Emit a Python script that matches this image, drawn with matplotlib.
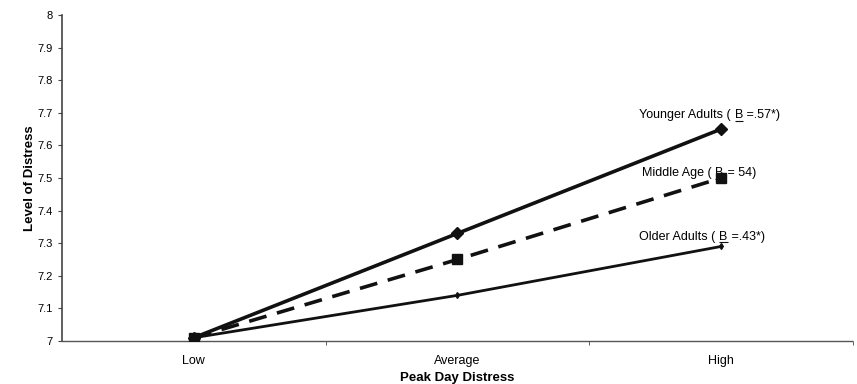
import numpy as np
import matplotlib.pyplot as plt
from matplotlib.ticker import FixedLocator, FuncFormatter

plt.rcParams['font.family'] = ['Liberation Sans', 'DejaVu Sans']

# data
categories = ['Low', 'Average', 'High']
younger = [7.01, 7.33, 7.65]
middle = [7.01, 7.25, 7.50]
older = [7.01, 7.14, 7.29]
label_names = ['Younger Adults ( ', 'Middle Age ( ', 'Older Adults ( ']
label_betas = [' =.57*)', ' = 54)', ' =.43*)']

fig = plt.figure(figsize=(8.57, 3.84), dpi=100)
ax = fig.add_axes([0.0723, 0.112, 0.923, 0.849])

x = np.arange(len(categories))
ink = '#111111'

ax.plot(x, older, color=ink, lw=2.0, marker='d', ms=3, zorder=3)
ax.plot(x, middle, color=ink, lw=2.6, ls=(0, (5, 3)), marker='s', ms=7, zorder=4)
ax.plot(x, younger, color=ink, lw=2.6, marker='D', ms=6, zorder=5)

ax.set_xlim(-0.5, 2.5)
ax.set_ylim(7, 8)
ax.set_xticks(x)
ax.set_xticklabels(categories, fontsize=9)
ax.xaxis.set_minor_locator(FixedLocator([0.5, 1.5, 2.5]))
ax.tick_params(axis='x', which='major', length=0, pad=10)
ax.tick_params(axis='x', which='minor', length=3, direction='out', color='#444444')

ax.set_yticks(np.round(np.arange(7, 8.01, 0.1), 1))
ax.yaxis.set_major_formatter(FuncFormatter(lambda v, p: f'{v:g}'))
ax.tick_params(axis='y', length=3, labelsize=8, color='#444444')

for s in ['top', 'right']:
    ax.spines[s].set_visible(False)
ax.spines['left'].set_color('#444444')
ax.spines['left'].set_linewidth(1.2)
ax.spines['bottom'].set_color('#555555')
ax.spines['bottom'].set_linestyle((0, (1, 1)))
ax.spines['bottom'].set_linewidth(1.0)

ax.set_xlabel('Peak Day Distress', fontsize=9.5, fontweight='bold', labelpad=4)
ax.set_ylabel('Level of Distress', fontsize=9.5, fontweight='bold', labelpad=1)

# series labels with an underlined B, placed near the right-hand points
renderer = fig.canvas.get_renderer()
inv = ax.transData.inverted()
ends = [younger[-1], middle[-1], older[-1]]
offsets = [0.013, -0.014, 0.0]
starts = [x[-1] - 0.31, x[-1] - 0.30, x[-1] - 0.31]
for name, beta, yend, dy, x0 in zip(label_names, label_betas, ends, offsets, starts):
    y0 = yend + dy + 0.02
    t1 = ax.text(x0, y0, name, fontsize=9, va='baseline')
    bb1 = t1.get_window_extent(renderer)
    xb = inv.transform((bb1.x1, 0))[0]
    t2 = ax.text(xb, y0, 'B', fontsize=9, va='baseline')
    bb2 = t2.get_window_extent(renderer)
    xr = inv.transform((bb2.x1, 0))[0]
    ax.text(xr, y0, beta, fontsize=9, va='baseline')
    px, py = ax.transData.transform((xb, y0))
    ux0 = inv.transform((bb2.x0, py - 2.5))
    ux1 = inv.transform((bb2.x1, py - 2.5))
    ax.plot([ux0[0], ux1[0]], [ux0[1], ux1[1]], color=ink, lw=0.8, solid_capstyle='butt')

fig.savefig('out.png', dpi=100)
